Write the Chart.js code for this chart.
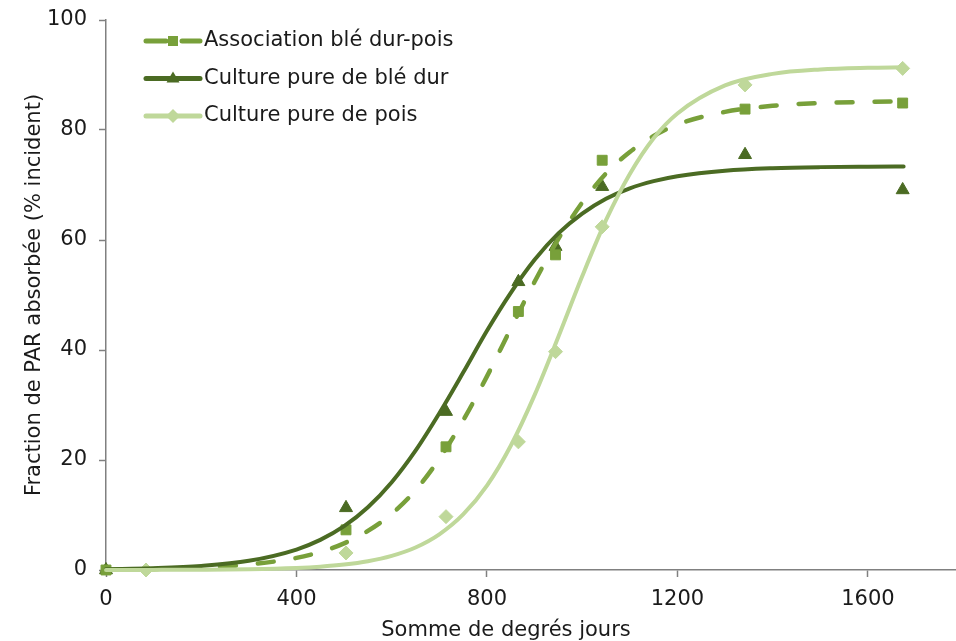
<!DOCTYPE html>
<html>
<head>
<meta charset="utf-8">
<script src="https://cdn.jsdelivr.net/npm/chart.js@4.4.0/dist/chart.umd.min.js"></script>
<style>
  html, body { margin: 0; padding: 0; background: #fff; }
  #wrap { width: 956px; height: 641px; }
</style>
</head>
<body>
<div id="wrap"><canvas id="graph"></canvas></div>
<script>
// axis ticks
const xTicks = [0, 400, 800, 1200, 1600];
const yTicks = [0, 20, 40, 60, 80, 100];

const seriesNames = ["Association blé dur-pois", "Culture pure de blé dur", "Culture pure de pois"];
const xTitle = "Somme de degrés jours";
const yTitle = "Fraction de PAR absorbée (% incident)";

// observed points
const obsXMix = [0, 504, 714, 866, 944, 1042, 1342, 1673];
const obsMix = [0, 7.3, 22.4, 47, 57.3, 74.5, 83.8, 84.9];
const obsXWheat = [0, 504, 714, 866, 944, 1042, 1342, 1673];
const obsWheat = [0, 11.3, 28.8, 52.4, 58.8, 69.7, 75.5, 69.1];
const obsXPea = [84, 504, 714, 866, 944, 1042, 1342, 1673];
const obsPea = [0, 3.1, 9.7, 23.3, 39.7, 62.4, 88.2, 91.2];

// fitted curves
const fitX = [0, 100, 200, 300, 400, 450, 500, 550, 600, 650, 700, 750, 800, 850, 900, 950, 1000, 1050, 1100, 1150, 1200, 1300, 1400, 1500, 1600, 1675];
const fitMix = [0.09, 0.19, 0.44, 0.99, 2.2, 3.28, 4.85, 7.1, 10.2, 14.5, 20.2, 27.2, 35.2, 43.9, 52.4, 60.2, 66.8, 72.1, 76.0, 78.9, 81.0, 83.3, 84.4, 84.9, 85.1, 85.2];
const fitWheat = [0.14, 0.33, 0.74, 1.67, 3.72, 5.47, 7.96, 11.4, 15.96, 21.7, 28.5, 35.9, 43.5, 50.4, 56.4, 61.2, 64.8, 67.5, 69.4, 70.7, 71.6, 72.6, 73.05, 73.25, 73.33, 73.36];
const fitPea = [0.01, 0.02, 0.05, 0.14, 0.38, 0.61, 0.99, 1.6, 2.58, 4.1, 6.49, 10.1, 15.35, 22.6, 31.8, 42.4, 53.4, 63.6, 72.0, 78.5, 83.0, 88.1, 90.2, 91.0, 91.3, 91.4];

const colMix = "#78a03a";
const colWheat = "#4b6b23";
const colPea = "#bfd89a";
const FONT = '"DejaVu Sans", Arial, sans-serif';

function pts(xs, ys) {
  return xs.map((x, i) => ({ x: x, y: ys[i] }));
}

function curve(label, xs, ys, color, dash) {
  return {
    label: label,
    data: pts(xs, ys),
    borderColor: color,
    borderWidth: dash ? 4.5 : 4,
    borderDash: dash || [],
    borderCapStyle: "round",
    pointRadius: 0,
    showLine: true,
    fill: false,
    cubicInterpolationMode: "monotone",
    clip: false
  };
}

function markers(label, xs, ys, color, style, r) {
  return {
    label: label,
    data: pts(xs, ys),
    showLine: false,
    pointStyle: style,
    pointRadius: r,
    pointHoverRadius: r,
    pointBackgroundColor: color,
    pointBorderColor: color,
    pointBorderWidth: 1,
    clip: false
  };
}

const mixDash = [16, 22];

// legend + axis titles drawn by hand to sit where the original has them
const textPlugin = {
  id: "texts",
  afterDraw(chart) {
    const ctx = chart.ctx;
    const a = chart.chartArea;
    ctx.save();
    ctx.font = "21px " + FONT;
    ctx.fillStyle = "#1a1a1a";

    ctx.textAlign = "center";
    ctx.textBaseline = "alphabetic";
    ctx.fillText(xTitle, a.left + 400, 636);

    ctx.save();
    ctx.translate(40, (a.top + a.bottom) / 2);
    ctx.rotate(-Math.PI / 2);
    ctx.fillText(yTitle, 0, 0);
    ctx.restore();

    const entries = [
      { color: colMix, dash: mixDash, shape: "rect" },
      { color: colWheat, dash: [], shape: "triangle" },
      { color: colPea, dash: [], shape: "diamond" }
    ];
    entries.forEach((e, i) => {
      const y = a.top + 21 + i * 37.5;
      const x0 = 146, x1 = 200, xm = 173;
      ctx.strokeStyle = e.color;
      ctx.lineWidth = 5;
      ctx.lineCap = "round";
      ctx.setLineDash(e.dash.length ? [20, 16] : []);
      ctx.beginPath();
      ctx.moveTo(x0, y);
      ctx.lineTo(x1, y);
      ctx.stroke();
      ctx.setLineDash([]);
      ctx.fillStyle = e.color;
      ctx.beginPath();
      if (e.shape === "rect") {
        ctx.rect(xm - 5, y - 5, 10, 10);
      } else if (e.shape === "triangle") {
        ctx.moveTo(xm, y - 7);
        ctx.lineTo(xm + 6.5, y + 4);
        ctx.lineTo(xm - 6.5, y + 4);
        ctx.closePath();
      } else {
        ctx.moveTo(xm, y - 7);
        ctx.lineTo(xm + 7, y);
        ctx.lineTo(xm, y + 7);
        ctx.lineTo(xm - 7, y);
        ctx.closePath();
      }
      ctx.fill();
      ctx.fillStyle = "#1a1a1a";
      ctx.textAlign = "left";
      ctx.textBaseline = "middle";
      ctx.fillText(seriesNames[i], 204, y);
    });
    ctx.restore();
  }
};

new Chart(document.getElementById("graph"), {
  type: "scatter",
  data: {
    datasets: [
      curve(seriesNames[2], fitX, fitPea, colPea),
      curve(seriesNames[1], fitX, fitWheat, colWheat),
      curve(seriesNames[0], fitX, fitMix, colMix, mixDash),
      markers(seriesNames[2], obsXPea, obsPea, colPea, "rectRot", 7),
      markers(seriesNames[0], obsXMix, obsMix, colMix, "rect", 7),
      markers(seriesNames[1], obsXWheat, obsWheat, colWheat, "triangle", 7.5)
    ]
  },
  options: {
    responsive: true,
    maintainAspectRatio: false,
    animation: false,
    layout: { autoPadding: false, padding: { top: 20, right: 0, left: 0, bottom: 0 } },
    plugins: {
      legend: { display: false },
      tooltip: { enabled: false }
    },
    scales: {
      x: {
        type: "linear",
        min: 0,
        max: 1785,
        afterBuildTicks: s => { s.ticks = xTicks.map(v => ({ value: v })); },
        afterFit: s => { s.height = 71; s.paddingLeft = 0; s.paddingRight = 0; },
        grid: { drawOnChartArea: false, drawTicks: true, tickLength: 7, tickColor: "#808080", tickWidth: 1.5 },
        border: { display: true, color: "#808080", width: 1.5 },
        ticks: { color: "#1a1a1a", font: { family: FONT, size: 21 }, padding: 10, maxRotation: 0, callback: v => String(v) }
      },
      y: {
        type: "linear",
        min: 0,
        max: 100,
        afterBuildTicks: s => { s.ticks = yTicks.map(v => ({ value: v })); },
        afterFit: s => { s.width = 106; s.paddingTop = 0; s.paddingBottom = 0; },
        grid: { drawOnChartArea: false, drawTicks: true, tickLength: 7, tickColor: "#808080", tickWidth: 1.5 },
        border: { display: true, color: "#808080", width: 1.5 },
        ticks: { color: "#1a1a1a", font: { family: FONT, size: 21 }, padding: 12, callback: v => String(v) }
      }
    }
  },
  plugins: [textPlugin]
});
</script>
</body>
</html>
